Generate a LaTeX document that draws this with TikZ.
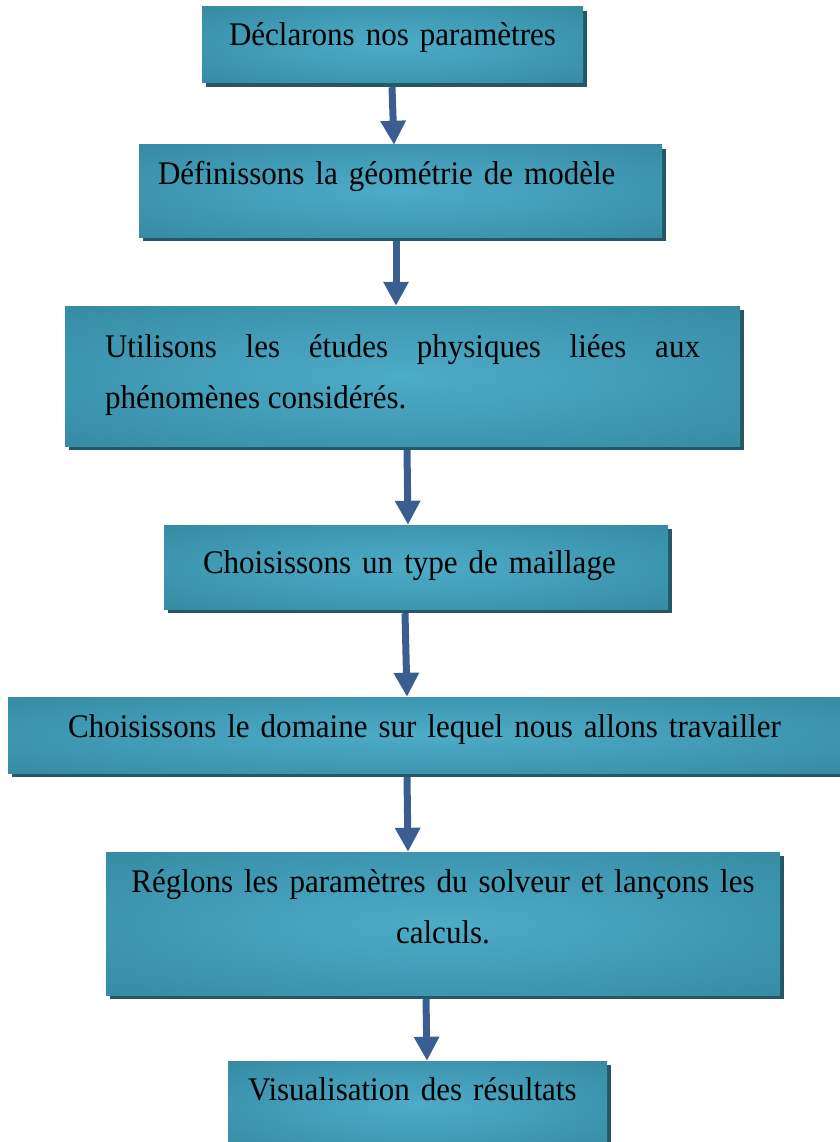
\documentclass[tikz,border=0pt]{standalone}
\usepackage{fontspec}
\setmainfont{Liberation Serif}[FakeStretch=0.94]
\usepackage{tikz}
\usetikzlibrary{arrows.meta,shadows}
\definecolor{boxlight}{RGB}{77,172,199}
\definecolor{boxmid}{RGB}{63,152,178}
\definecolor{boxdark}{RGB}{46,127,149}
\definecolor{boxshadow}{RGB}{36,88,102}
\definecolor{arrowblue}{RGB}{59,94,145}
\pgfdeclareradialshading{boxglow}{\pgfpoint{0bp}{0bp}}{color(0bp)=(boxlight); color(22bp)=(boxmid); color(48bp)=(boxdark); color(75bp)=(boxdark)}
\tolerance=9999

\begin{document}
\begin{tikzpicture}[x=1pt,y=-1pt,
    step box/.style={rectangle, shade, shading=boxglow, drop shadow={shadow xshift=4pt, shadow yshift=-4pt, fill=boxshadow, opacity=1}, inner ysep=0pt, text height=22pt, font=\fontsize{33}{51}\selectfont},
    flow arrow/.style={draw=arrowblue, line width=7pt, -{Triangle[width=24pt,length=24pt]}}]

    \useasboundingbox (0,0) rectangle (839,1142);

    \node[step box, text width=341pt, inner xsep=20pt, minimum height=76pt, text depth=20pt, align=center] (1) at (392.5,45) {Déclarons nos paramètres};
    \node[step box, text width=485pt, inner xsep=19pt, minimum height=92pt, text depth=34pt, align=left] (2) at (400.5,191) {Définissons la géométrie de modèle};
    \node[step box, text width=595pt, inner xsep=40pt, minimum height=140pt, text depth=60pt, align=justify] (3) at (402.5,376) {Utilisons les études physiques liées aux phénomènes considérés.};
    \node[step box, text width=426pt, inner xsep=39pt, minimum height=84pt, text depth=10pt, align=left] (4) at (416,567) {Choisissons un type de maillage};
    \node[step box, text width=793pt, inner xsep=20pt, minimum height=76pt, text depth=18pt, align=center] (5) at (424.5,735) {Choisissons le domaine sur lequel nous allons travailler};
    \node[step box, text width=634pt, inner xsep=20pt, minimum height=143pt, text depth=85pt, align=center] (6) at (443,923.5) {Réglons les paramètres du solveur et lançons les\\calculs.};
    \node[step box, text width=339pt, inner xsep=20pt, minimum height=89pt, text depth=33pt, align=left] (7) at (417.5,1105.5) {Visualisation des résultats};

    \draw[flow arrow] ([xshift=-0.5pt,yshift=-4pt]1.south) -- ([xshift=-6.5pt]2.north);
    \draw[flow arrow] ([xshift=-4.5pt,yshift=-4pt]2.south) -- ([xshift=-6.5pt]3.north);
    \draw[flow arrow] ([xshift=4.5pt,yshift=-4pt]3.south) -- ([xshift=-8pt]4.north);
    \draw[flow arrow] ([xshift=-11pt,yshift=-4pt]4.south) -- ([xshift=-17.5pt]5.north);
    \draw[flow arrow] ([xshift=-17.5pt,yshift=-4pt]5.south) -- ([xshift=-35pt]6.north);
    \draw[flow arrow] ([xshift=-17pt,yshift=-4pt]6.south) -- ([xshift=9.5pt]7.north);
\end{tikzpicture}
\end{document}
